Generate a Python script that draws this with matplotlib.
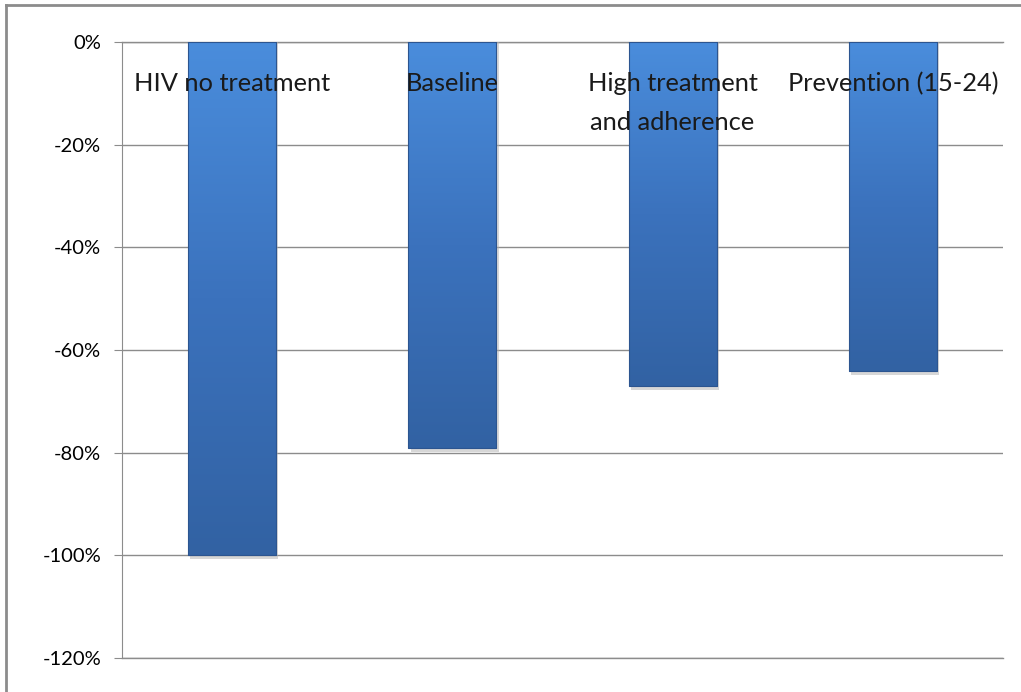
import matplotlib
matplotlib.use("Agg")
import matplotlib.pyplot as plt
import numpy as np
from matplotlib.lines import Line2D
from matplotlib.colors import LinearSegmentedColormap

categories = ["HIV no treatment", "Baseline", "High treatment\nand adherence", "Prevention (15-24)"]
values = [-100, -79, -67, -64]
yticks = [0, -20, -40, -60, -80, -100, -120]
ytick_labels = ["0%", "-20%", "-40%", "-60%", "-80%", "-100%", "-120%"]

plt.rcParams['font.family'] = ['Lato', 'DejaVu Sans']

fig = plt.figure(figsize=(10.21, 6.92), dpi=100)
ax = fig.add_axes([122/1021, 1-658/692, (1003-122)/1021, (658-42)/692])

x = np.arange(len(categories))
bars = ax.bar(x, values, width=0.4, color="#3d75c2", edgecolor="none", zorder=3)

cmap = LinearSegmentedColormap.from_list("b", ["#4a8ddc", "#3b72bd", "#3262a3"])
grad = np.linspace(0, 1, 256).reshape(-1, 1)
for b in bars:
    x0, w = b.get_x(), b.get_width()
    y0 = b.get_y() + b.get_height()
    ax.bar(x0 + w/2 + 0.01, b.get_height() - 0.8, width=w, bottom=0, color="#b0b0b0", alpha=0.5, zorder=2)
    ax.imshow(grad, extent=[x0, x0 + w, y0, 0], aspect="auto", cmap=cmap, zorder=4, interpolation="bilinear")
    ax.plot([x0, x0 + w, x0 + w, x0, x0], [0, 0, y0, y0, 0], color="#2c5590", lw=0.8, zorder=5)

ax.set_xlim(-0.5, len(categories) - 0.5)
ax.set_ylim(-120, 0)
ax.set_yticks(yticks)
ax.set_yticklabels(ytick_labels, fontsize=14.5)
ax.set_xticks([])
ax.yaxis.grid(True, color="#8c8c8c", lw=1, zorder=0)
ax.set_axisbelow(True)
for s in ["top", "right", "bottom"]:
    ax.spines[s].set_visible(False)
ax.spines["left"].set_color("#8c8c8c")
ax.tick_params(axis="y", length=6, color="#8c8c8c", pad=9)
ax.axhline(0, color="#8c8c8c", lw=1, zorder=1, clip_on=False)
ax.axhline(-120, color="#8c8c8c", lw=1, zorder=1, clip_on=False)

for xi, c in zip(x, categories):
    ax.text(xi, -5.9, c, ha="center", va="top", fontsize=18.3, color="#1a1a1a", zorder=6, linespacing=1.85)

fig.add_artist(Line2D([6/1021, 6/1021], [0, 1-5/692], color="#8c8c8c", lw=2, transform=fig.transFigure))
fig.add_artist(Line2D([6/1021, 1], [1-5/692, 1-5/692], color="#8c8c8c", lw=2, transform=fig.transFigure))

fig.savefig("out.png", dpi=100)
